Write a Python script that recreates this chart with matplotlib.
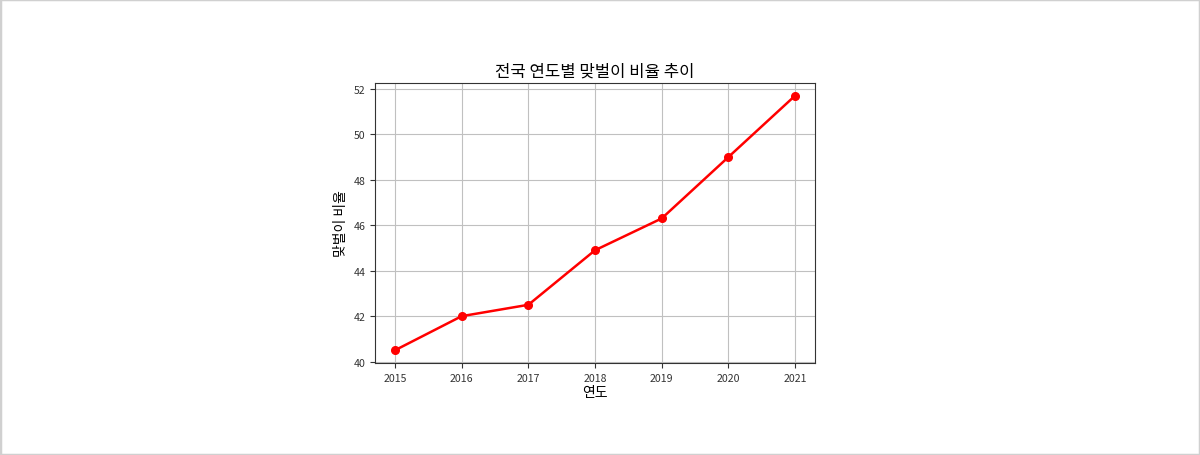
import matplotlib.pyplot as plt
from matplotlib.patches import Rectangle

plt.rcParams['font.family'] = ['Noto Sans CJK KR', 'DejaVu Sans']

years = [2015, 2016, 2017, 2018, 2019, 2020, 2021]
ratio = [40.5, 42.0, 42.5, 44.9, 46.3, 49.0, 51.7]

fig = plt.figure(figsize=(12, 4.56), dpi=100)
ax = fig.add_axes([0.3125, 0.2018, 0.3667, 0.614])

ax.plot(years, ratio, color='red', marker='o', linewidth=1.8, markersize=5.5)
ax.set_title('전국 연도별 맞벌이 비율 추이', fontsize=12, pad=5)
ax.set_xlabel('연도', fontsize=10, labelpad=2)
ax.set_ylabel('맞벌이 비율', fontsize=10, labelpad=4)
ax.set_xticks(years)
ax.tick_params(labelsize=7.6, colors='#333333')
ax.grid(True, color='#c0c0c0', linewidth=0.8)
for s in ax.spines.values():
    s.set_color('#333333')

# 바깥 테두리
fig.patches.append(Rectangle((0, 0), 1, 1, transform=fig.transFigure,
                             fill=False, edgecolor='#d0d0d0', linewidth=2.5))

fig.savefig('out.png', dpi=100)
